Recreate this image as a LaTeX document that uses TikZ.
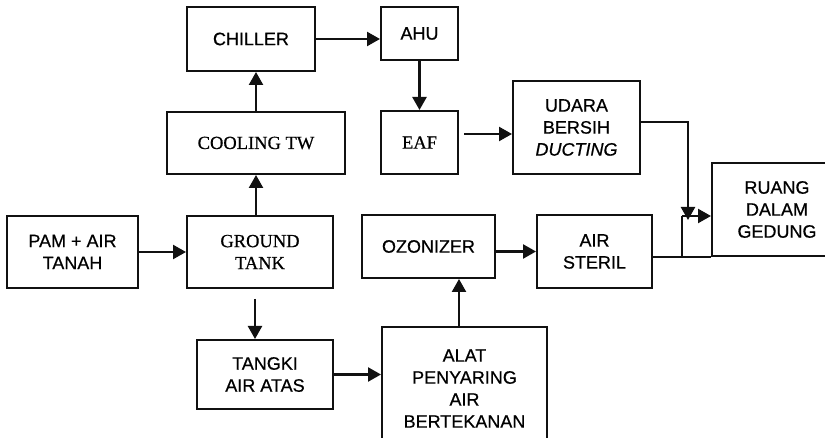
\documentclass[tikz,border=0pt]{standalone}
\usepackage{fontspec}
\newfontfamily\boxsf{Liberation Sans}[FakeBold=0.6]
\newfontfamily\boxrm{Liberation Serif}[FakeBold=0.6]
\usepackage{xcolor}
\usetikzlibrary{calc,arrows.meta,positioning}
\definecolor{ink}{HTML}{111111}
\tikzset{
  ar/.style={-{Triangle[length=13pt,width=14pt]},line width=2.4pt,ink},
  ln/.style={line width=2pt,ink},
  blk/.style={draw=ink,line width=2pt,rectangle,align=center,inner sep=2pt,
    font=\fontsize{18}{22}\selectfont\boxsf},
  blkrm/.style={blk,font=\fontsize{18.5}{22}\selectfont\boxrm}
}

\begin{document}
\begin{tikzpicture}[x=1pt,y=-1pt]
\useasboundingbox (0,0) rectangle (825,438);
\node[blk,minimum width=128,minimum height=64] (chiller) at (251,39) {CHILLER};
\node[blk,minimum width=77,minimum height=53] (ahu) at (419.5,33.5) {AHU};
\node[blkrm,minimum width=178,minimum height=62] (cooling) at (256,143) {COOLING TW};
\node[blkrm,minimum width=77,minimum height=63] (eaf) at (419.5,142.5) {EAF};
\node[blk,minimum width=127,minimum height=93] (udara) at (576.5,127.5) {UDARA\\BERSIH\\\textit{DUCTING}};
\node[blk,minimum width=130,minimum height=93] (ruang) at (777,209.5) {RUANG\\DALAM\\GEDUNG};
\node[blk,minimum width=131,minimum height=72] (pam) at (72.5,252) {PAM + AIR\\TANAH};
\node[blkrm,minimum width=146,minimum height=72] (ground) at (260,252) {GROUND\\TANK};
\node[blk,minimum width=133,minimum height=63] (ozon) at (428.5,246.5) {OZONIZER};
\node[blk,minimum width=115,minimum height=73] (steril) at (594.5,251.5) {AIR\\STERIL};
\node[blk,minimum width=136,minimum height=69] (tangki) at (265,374.5) {TANGKI\\AIR ATAS};
\node[blk,minimum width=165,minimum height=123] (alat) at (464.5,388.5) {ALAT\\PENYARING\\AIR\\BERTEKANAN};
% alur air
\draw[ar] (pam.east) -- (ground.west);
\draw[ar] (ground.north -| cooling.south) -- (cooling.south);
\draw[ar] (cooling.north) -- (cooling.north |- chiller.south);
\draw[ar] (chiller.east) -- (chiller.east -| ahu.west);
\draw[ar] (ahu.south) -- (eaf.north);
\draw[ar] ([shift={(5,-8.5)}]eaf.east) coordinate (e1) -- (e1 -| udara.west);
\draw[ar] ([shift={(-5,10)}]ground.south) coordinate (g1) -- (g1 |- tangki.north);
\draw[ar] (tangki.east) -- (tangki.east -| alat.west);
\draw[ar] ([xshift=-5.5pt]alat.north) coordinate (a1) -- (a1 |- ozon.south);
\draw[ar] (steril.west -| ozon.east) -- (steril.west);
% ke ruang
\coordinate (jn) at (682,216);
\coordinate (dn) at (688,220);
\draw[ar] ([yshift=5.5pt]udara.east) -| (dn);
\draw[ln] (steril.east |- ruang.south) -- (ruang.south west);
\draw[ln] (jn |- ruang.south) -- (jn);
\draw[ar] (jn) -- (jn -| ruang.west);
\end{tikzpicture}
\end{document}
